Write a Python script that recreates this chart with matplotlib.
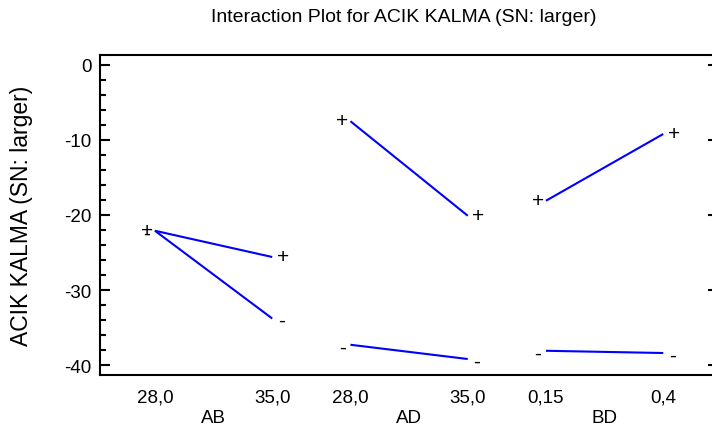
import matplotlib
matplotlib.use('Agg')
import matplotlib.pyplot as plt
from matplotlib.ticker import MultipleLocator
import matplotlib.transforms as mtransforms

plt.rcParams['font.family'] = ['Liberation Sans', 'DejaVu Sans']
plt.rcParams['axes.unicode_minus'] = False

# Data
groups = ['AB', 'AD', 'BD']
level_labels = ['28,0', '35,0', '28,0', '35,0', '0,15', '0,4']
plus_low = [-22.1, -7.5, -18.1]
plus_high = [-25.6, -20.1, -9.2]
minus_low = [-22.1, -37.3, -38.1]
minus_high = [-33.8, -39.2, -38.4]

# layout: each factor pair occupies x = g (low level) .. g + width (high level)
width = 0.6
line_color = '#0000ff'

fig = plt.figure(figsize=(7.12, 4.31), dpi=100)
# right spine sits just past the image edge, as in the reference
ax = fig.add_axes([100 / 712, 55 / 431, 618 / 712, 320 / 431])

tick_pos = []
for g, name in enumerate(groups):
    x0, x1 = g, g + width
    tick_pos += [x0, x1]
    for lo, hi, sym, dx_r, dy in [(plus_low[g], plus_high[g], '+', 7.5, 0.5),
                                  (minus_low[g], minus_high[g], '-', 6.5, -1.5)]:
        ax.plot([x0, x1], [lo, hi], color=line_color, lw=1.5, solid_capstyle='butt')
        ax.annotate(sym, xy=(x0, lo), xytext=(-6, dy), textcoords='offset points',
                    ha='center', va='center', fontsize=15)
        ax.annotate(sym, xy=(x1, hi), xytext=(dx_r, dy), textcoords='offset points',
                    ha='center', va='center', fontsize=15)

# group names under the level labels
trans = mtransforms.blended_transform_factory(ax.transData, ax.transAxes)
for g, name in enumerate(groups):
    ax.text(g + width / 2, -0.147, name, transform=trans, ha='center', va='baseline',
            fontsize=13.5)

ax.set_xlim(-0.281, 2.880)
ax.set_ylim(-41.33, 1.33)
ax.set_xticks(tick_pos)
ax.set_xticklabels(level_labels, fontsize=13.5)
ax.yaxis.set_major_locator(MultipleLocator(10))
ax.yaxis.set_minor_locator(MultipleLocator(2))
ax.tick_params(axis='x', length=0, pad=10)
ax.tick_params(axis='y', which='major', direction='in', length=7.5, width=1.5,
               labelsize=13.5, pad=6, right=True)
ax.tick_params(axis='y', which='minor', direction='in', length=4.5, width=1.5)
ax.tick_params(axis='y', which='minor', right=False)

for sp in ax.spines.values():
    sp.set_linewidth(1.5)

ax.set_ylabel('ACIK KALMA (SN: larger)', fontsize=16.5)
ax.yaxis.set_label_coords(-0.108, 0.5)
fig.text(404 / 712, 1 - 22 / 431, 'Interaction Plot for ACIK KALMA (SN: larger)',
         ha='center', va='baseline', fontsize=14)

fig.savefig('out.png', dpi=100)
